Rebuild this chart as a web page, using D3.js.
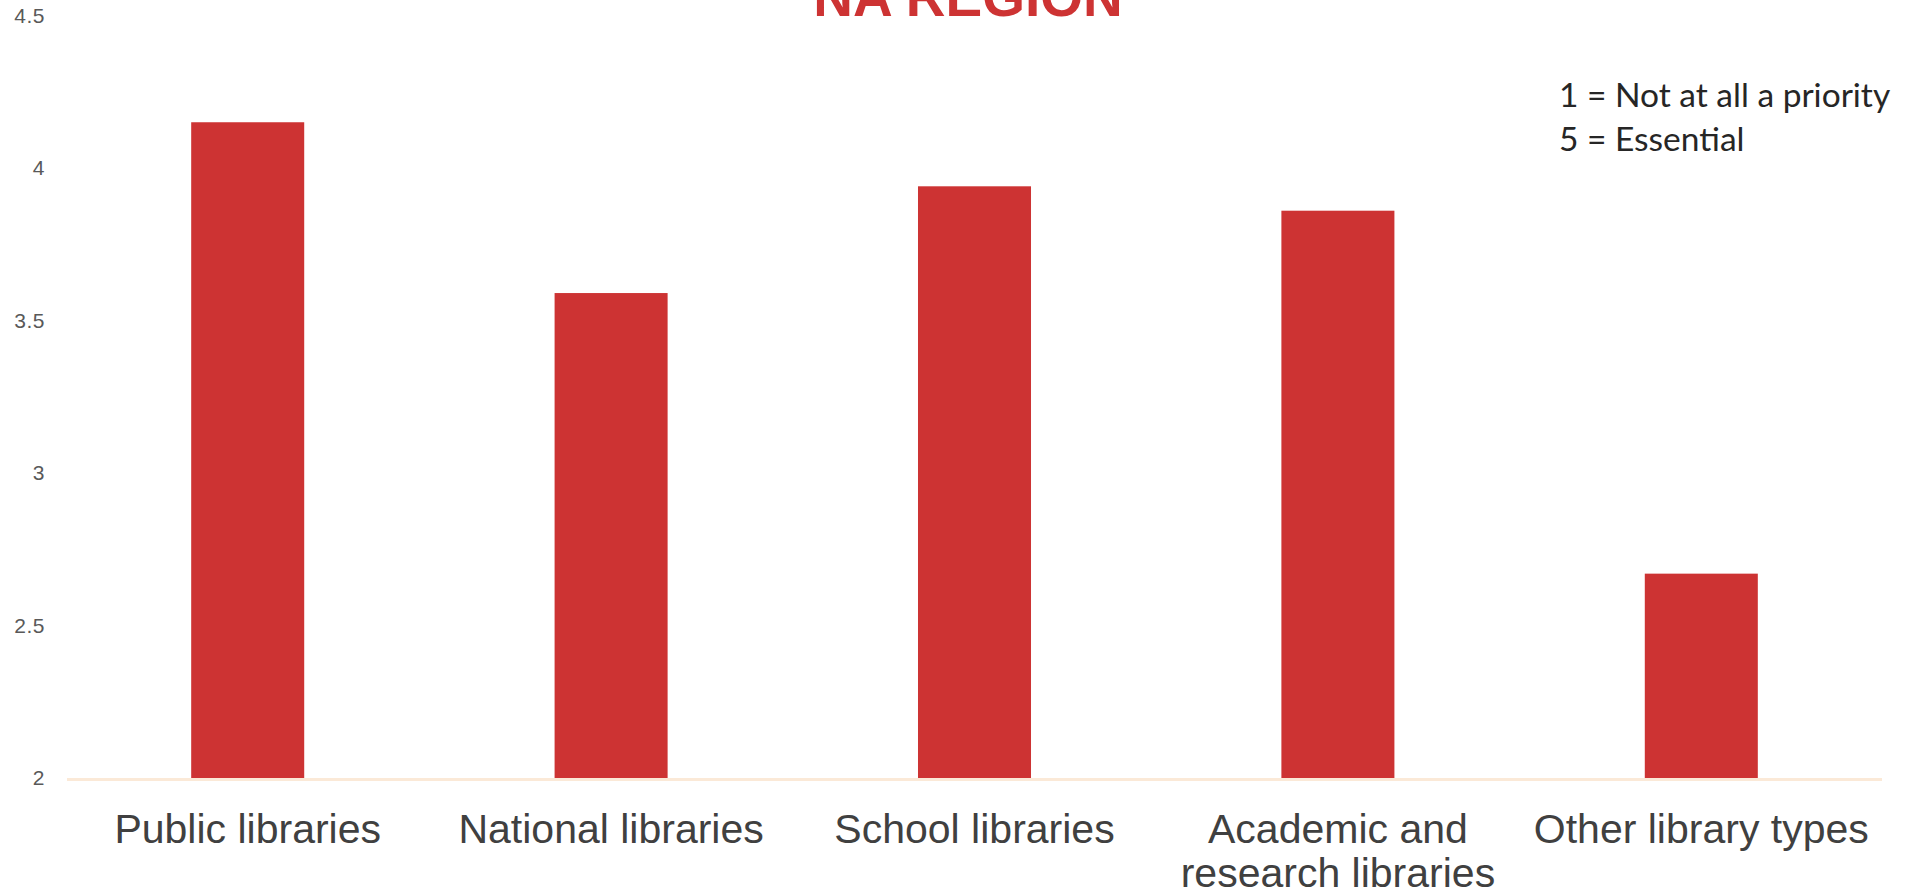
<!DOCTYPE html>
<html>
<head>
<meta charset="utf-8">
<script src="https://cdn.jsdelivr.net/npm/d3@7"></script>
<style>
  html, body { margin: 0; padding: 0; background: #ffffff; }
  svg { display: block; }
</style>
</head>
<body>
<svg id="chart" width="1910" height="893"></svg>
<script>
// Average priority rating per library type
const categories = ["Public libraries", "National libraries", "School libraries", "Academic and research libraries", "Other library types"];
const values = [4.15, 3.59, 3.94, 3.86, 2.67];
const yTicks = [2, 2.5, 3, 3.5, 4, 4.5];
const yTickLabels = ["2", "2.5", "3", "3.5", "4", "4.5"];
const titleText = "NA REGION";
const noteLines = ["1 = Not at all a priority", "5 = Essential"];

const svg = d3.select("#chart");
const plot = { left: 66, right: 1883, top: 15.5, bottom: 778 };

const x = d3.scaleBand()
  .domain(categories)
  .range([plot.left, plot.right])
  .paddingInner(0.689)
  .paddingOuter(0.3445);

const y = d3.scaleLinear()
  .domain([2, 4.5])
  .range([plot.bottom, plot.top]);

// Bars
svg.append("g")
  .selectAll("rect")
  .data(categories)
  .join("rect")
  .attr("x", d => x(d))
  .attr("width", x.bandwidth())
  .attr("y", (d, i) => y(values[i]))
  .attr("height", (d, i) => y(2) - y(values[i]))
  .attr("fill", "#cd3333");

// Baseline
svg.append("line")
  .attr("x1", plot.left + 1).attr("x2", plot.right - 1)
  .attr("y1", plot.bottom + 1.5).attr("y2", plot.bottom + 1.5)
  .attr("stroke", "#fbe9d7")
  .attr("stroke-width", 3);

// Y axis labels (no axis line or ticks)
const yAxis = d3.axisLeft(y)
  .tickValues(yTicks)
  .tickFormat((d, i) => yTickLabels[i])
  .tickSize(0)
  .tickPadding(0);
const yg = svg.append("g")
  .attr("transform", "translate(45,0)")
  .call(yAxis);
yg.select(".domain").remove();
yg.selectAll("text")
  .attr("font-family", "'Liberation Sans', Arial, sans-serif")
  .attr("font-size", 21)
  .attr("letter-spacing", 0.5)
  .attr("fill", "#595959");

// Category labels, wrapped to the band step
const xAxis = d3.axisBottom(x).tickSize(0).tickPadding(0);
const xg = svg.append("g")
  .attr("transform", `translate(0,${plot.bottom})`)
  .call(xAxis);
xg.select(".domain").remove();
xg.selectAll("text")
  .attr("font-family", "'Liberation Sans', Arial, sans-serif")
  .attr("font-size", 41)
  .attr("fill", "#404040")
  .attr("dy", null)
  .attr("y", 65)
  .each(function(d) {
    const t = d3.select(this);
    const words = d.split(" ");
    const maxW = x.step();
    t.text(null);
    let line = [];
    let lineNo = 0;
    let tspan = t.append("tspan").attr("x", 0).attr("y", 65);
    words.forEach(w => {
      line.push(w);
      tspan.text(line.join(" "));
      if (tspan.node().getComputedTextLength() > maxW && line.length > 1) {
        line.pop();
        tspan.text(line.join(" "));
        line = [w];
        lineNo += 1;
        tspan = t.append("tspan").attr("x", 0).attr("y", 65 + lineNo * 44).text(w);
      }
    });
  });

// Title (partly above the visible area)
svg.append("text")
  .attr("x", 968)
  .attr("y", 16)
  .attr("text-anchor", "middle")
  .attr("font-family", "'Liberation Sans', Arial, sans-serif")
  .attr("font-weight", "bold")
  .attr("font-size", 55)
  .attr("fill", "#cd3333")
  .text(titleText);

// Scale note
svg.append("g")
  .selectAll("text")
  .data(noteLines)
  .join("text")
  .attr("x", 1559)
  .attr("y", (d, i) => 107 + i * 44)
  .attr("font-family", "Lato, 'Open Sans', sans-serif")
  .attr("font-size", 33.5)
  .attr("fill", "#262626")
  .text(d => d);
</script>
</body>
</html>
